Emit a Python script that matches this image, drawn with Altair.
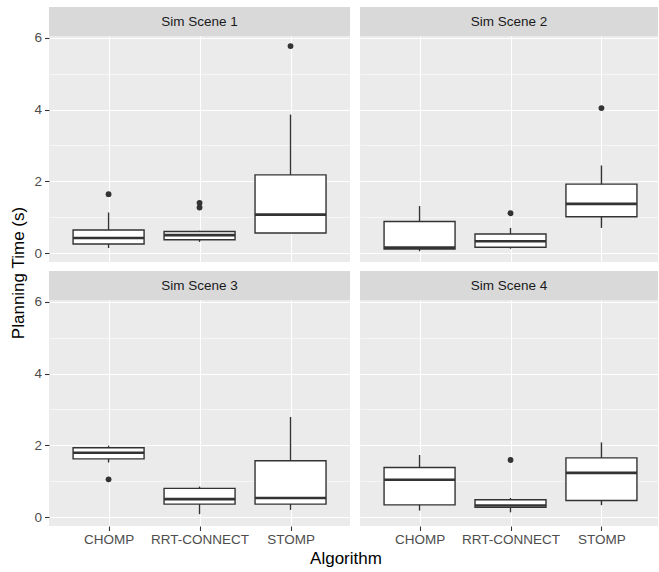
import json
import altair as alt
import pandas as pd

# ---- data ----
scenes = ["Sim Scene 1", "Sim Scene 2", "Sim Scene 3", "Sim Scene 4"]
algorithms = ["CHOMP", "RRT-CONNECT", "STOMP"]

# rows: scenes, columns: algorithms
whisker_low = [[0.14, 0.31, 0.56], [0.05, 0.12, 0.70], [1.52, 0.08, 0.20], [0.18, 0.13, 0.33]]
q1 = [[0.25, 0.37, 0.56], [0.11, 0.16, 1.01], [1.62, 0.36, 0.36], [0.34, 0.27, 0.46]]
median = [[0.42, 0.50, 1.07], [0.15, 0.33, 1.37], [1.79, 0.50, 0.53], [1.04, 0.32, 1.23]]
q3 = [[0.64, 0.60, 2.18], [0.88, 0.53, 1.92], [1.93, 0.80, 1.57], [1.38, 0.48, 1.65]]
whisker_high = [[1.13, 0.62, 3.86], [1.31, 0.70, 2.44], [1.99, 0.85, 2.79], [1.73, 0.53, 2.08]]
outliers = [
    [[1.64], [1.27, 1.40], [5.77]],
    [[], [1.11], [4.04]],
    [[1.05], [], []],
    [[], [1.59], []],
]
y_ticks = [0, 1, 2, 3, 4, 5, 6]

FONT = "Liberation Sans"
INK = "#333333"
STEP = 94.1      # px per category
PLOT_H = 226     # panel height
STRIP_H = 29     # strip height
Y_LO, Y_HI = -0.25, 6.05
Y_TOP = Y_HI + (Y_HI - Y_LO) * STRIP_H / PLOT_H  # domain extended to hold the strip


def panel(si, col, row):
    w = 301 if col == 0 else 298
    xmax = 0.4 + w / STEP
    df = pd.DataFrame({
        "pos": [i + 1 for i in range(len(algorithms))],
        "alg": algorithms,
        "lo": whisker_low[si],
        "q1": q1[si],
        "med": median[si],
        "q3": q3[si],
        "hi": whisker_high[si],
    })
    out = pd.DataFrame(
        [{"pos": ai + 1, "v": v} for ai in range(len(algorithms)) for v in outliers[si][ai]],
        columns=["pos", "v"],
    )
    xscale = alt.Scale(domain=[0.4, xmax], nice=False, zero=False)
    yscale = alt.Scale(domain=[Y_LO, Y_TOP], nice=False, zero=False)
    bottom = row == 1
    left = col == 0
    xaxis = alt.Axis(
        values=[1, 2, 3],
        labelExpr=json.dumps(algorithms) + "[datum.value - 1]",
        labels=bottom, ticks=bottom, domain=False,
        grid=True, gridColor="white", gridWidth=1.1,
        tickColor=INK, tickSize=4.5, tickWidth=1.1,
        labelFont=FONT, labelFontSize=13.5, labelColor="#4D4D4D", labelPadding=2,
        title=None,
    )
    odd = "datum.value % 2 == 1"
    yaxis = alt.Axis(
        values=y_ticks,
        labelExpr="datum.value % 2 == 0 ? datum.label : ''",
        labels=left, ticks=left, domain=False,
        grid=True, gridColor="white",
        gridWidth={"condition": {"test": odd, "value": 0.55}, "value": 1.1},
        tickOpacity={"condition": {"test": odd, "value": 0}, "value": 1},
        tickColor=INK, tickSize=4.5, tickWidth=1.1,
        labelFont=FONT, labelFontSize=13.5, labelColor="#4D4D4D", labelPadding=3,
        title=None,
    )
    base = alt.Chart(df).encode(x=alt.X("pos:Q", scale=xscale, axis=xaxis))
    whisk = base.mark_rule(color=INK, strokeWidth=1.4).encode(
        y=alt.Y("lo:Q", scale=yscale, axis=yaxis), y2="hi:Q")
    box = base.mark_bar(size=71, fill="white", stroke=INK, strokeWidth=1.4).encode(
        y="q1:Q", y2="q3:Q")
    med = base.mark_tick(size=71, thickness=2.6, color=INK, opacity=1,
                         orient="horizontal").encode(y="med:Q")
    pts = alt.Chart(out).mark_circle(size=34, color=INK, opacity=1).encode(
        x=alt.X("pos:Q", scale=xscale), y=alt.Y("v:Q", scale=yscale))

    sdf = pd.DataFrame({"scene": [scenes[si]]})
    sbg = alt.Chart(sdf).mark_rect(color="#D9D9D9").encode(
        x=alt.value(0), x2=alt.value(w), y=alt.value(0), y2=alt.value(STRIP_H))
    stxt = alt.Chart(sdf).mark_text(font=FONT, fontSize=13.5, color="#1A1A1A").encode(
        x=alt.value(w / 2), y=alt.value(STRIP_H / 2 + 0.5), text="scene:N")
    return alt.layer(whisk, box, med, pts, sbg, stxt).properties(
        width=w, height=PLOT_H + STRIP_H)


row1 = alt.hconcat(panel(0, 0, 0), panel(1, 1, 0), spacing=10)
row2 = alt.hconcat(
    panel(2, 0, 1), panel(3, 1, 1), spacing=10,
    title=alt.TitleParams("Algorithm", orient="bottom", anchor="middle", font=FONT,
                          fontSize=17, fontWeight="normal", color="black", offset=5),
)
chart = alt.vconcat(
    row1, row2, spacing=9,
    title=alt.TitleParams("Planning Time (s)", orient="left", anchor="middle", font=FONT,
                          fontSize=17, fontWeight="normal", color="black", offset=6,
                          dx=14),
).properties(
    padding={"left": 9, "top": 7, "right": 0, "bottom": 0},
).configure_view(stroke=None, fill="#EBEBEB")

chart.save("out.html", embed_options={"renderer": "svg", "actions": False})
